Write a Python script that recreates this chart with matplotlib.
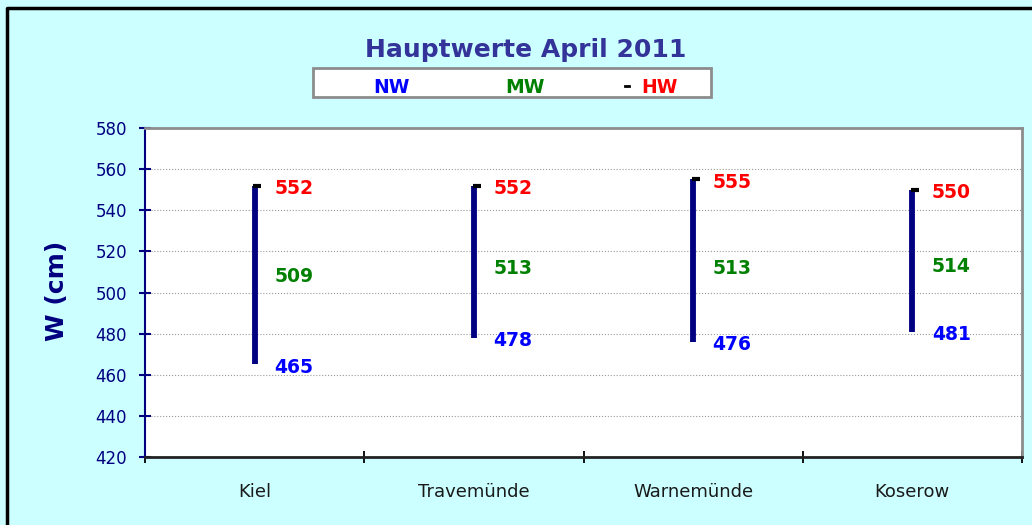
import matplotlib.pyplot as plt
from matplotlib.patches import Rectangle
from matplotlib.lines import Line2D
from matplotlib.ticker import FixedLocator, NullFormatter

# Hauptwerte April 2011
stations = ['Kiel', 'Travemünde', 'Warnemünde', 'Koserow']
nw = [465, 478, 476, 481]
mw = [509, 513, 513, 514]
hw = [552, 552, 555, 550]

plt.rcParams['font.family'] = ['DejaVu Sans']

bg = '#CCFFFF'
navy = '#000080'

fig = plt.figure(figsize=(10.32, 5.25), dpi=100, facecolor=bg)
ax = fig.add_axes([145 / 1032, 68 / 525, 877 / 1032, 329 / 525])
ax.set_facecolor('white')

x = list(range(len(stations)))

# Linie von NW bis HW
ax.vlines(x, nw, hw, colors=navy, linewidth=4.2, zorder=3)
ax.plot([i + 0.012 for i in x], hw, linestyle='none', marker='_', color='black',
        markersize=6, markeredgewidth=3, zorder=4)

for i in x:
    ax.annotate(str(hw[i]), (i, hw[i]), xytext=(14, -2), textcoords='offset points',
                color='#FF0000', fontsize=13.5, fontweight='bold', va='center', ha='left')
    ax.annotate(str(mw[i]), (i, mw[i]), xytext=(14, -2), textcoords='offset points',
                color='#008000', fontsize=13.5, fontweight='bold', va='center', ha='left')
    ax.annotate(str(nw[i]), (i, nw[i]), xytext=(14, -2), textcoords='offset points',
                color='#0000FF', fontsize=13.5, fontweight='bold', va='center', ha='left')

ax.set_xlim(-0.5, len(stations) - 0.5)
ax.set_ylim(420, 580)
ax.set_yticks(range(420, 581, 20))
ax.yaxis.grid(True, linestyle=':', color='#999999', linewidth=0.8)
ax.set_axisbelow(True)

# Kategorien: Striche an den Grenzen, Beschriftung in der Mitte
ax.xaxis.set_major_locator(FixedLocator([i - 0.5 for i in range(len(stations) + 1)]))
ax.xaxis.set_major_formatter(NullFormatter())
ax.xaxis.set_minor_locator(FixedLocator(x))
ax.set_xticklabels(stations, minor=True)
ax.tick_params(axis='x', which='major', direction='inout', length=8, width=1.3, color='black')
ax.tick_params(axis='x', which='minor', length=0, pad=19, labelsize=13, labelcolor='#1a1a1a')

ax.tick_params(axis='y', direction='inout', length=8, width=1.5, color=navy,
               pad=9, labelsize=12, labelcolor=navy)

ax.spines['left'].set_color(navy)
ax.spines['left'].set_linewidth(1.5)
ax.spines['bottom'].set_color('#222222')
ax.spines['bottom'].set_linewidth(2)
ax.spines['top'].set_color('#8c8c8c')
ax.spines['top'].set_linewidth(2)
ax.spines['right'].set_color('#8c8c8c')
ax.spines['right'].set_linewidth(2)

fig.text(57 / 1032, 1 - 291 / 525, 'W (cm)', rotation=90, color=navy, fontsize=18,
         fontweight='bold', ha='center', va='center')

fig.text(526 / 1032, 1 - 50 / 525, 'Hauptwerte April 2011', color='#333399',
         fontsize=18, fontweight='bold', ha='center', va='center')

# Legende
fig.patches.append(Rectangle((313 / 1032, 1 - 97 / 525), 398 / 1032, 29 / 525,
                             transform=fig.transFigure, facecolor='white',
                             edgecolor='#8c8c8c', linewidth=2))
ly = 1 - 88 / 525
fig.text(391 / 1032, ly, 'NW', color='#0000FF', fontsize=13.5, fontweight='bold',
         ha='center', va='center')
fig.text(525 / 1032, ly, 'MW', color='#008000', fontsize=13.5, fontweight='bold',
         ha='center', va='center')
fig.text(659 / 1032, ly, 'HW', color='#FF0000', fontsize=13.5, fontweight='bold',
         ha='center', va='center')
fig.lines.append(Line2D([625 / 1032, 629 / 1032], [1 - 86 / 525, 1 - 86 / 525],
                        transform=fig.transFigure, color='black', linewidth=2))

# Rahmen
fig.lines.append(Line2D([7 / 1032, 7 / 1032, 1.0], [0.0, 1 - 8 / 525, 1 - 8 / 525],
                        transform=fig.transFigure, color='black', linewidth=2.5))

fig.savefig('out.png', dpi=100, facecolor=bg)
